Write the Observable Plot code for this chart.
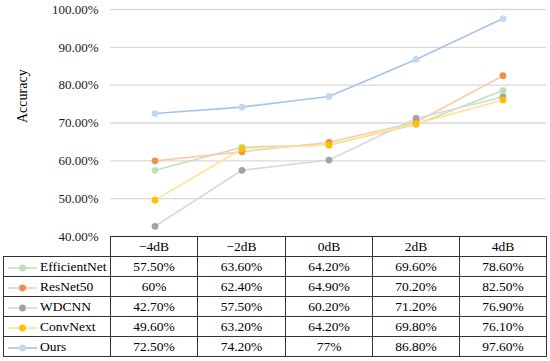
<!DOCTYPE html>
<html>
<head>
<meta charset="utf-8">
<script src="https://cdn.jsdelivr.net/npm/d3@7"></script>
<script src="https://cdn.jsdelivr.net/npm/@observablehq/plot@0.6"></script>
<style>
  html, body { margin: 0; padding: 0; background: #fff; }
  #wrap { position: relative; width: 550px; height: 361px; font-family: "Liberation Serif", "DejaVu Serif", serif; }
  #wrap svg text { font-family: "Liberation Serif", "DejaVu Serif", serif; }
  #tbl { position: absolute; left: 3px; top: 236px; border-collapse: collapse; table-layout: fixed; font-size: 13.5px; color: #000; font-family: "Liberation Serif", "DejaVu Serif", serif; }
  #tbl td { border: 1px solid #333; height: 19px; padding: 0; text-align: center; white-space: nowrap; line-height: 19px; }
  #tbl td.name { text-align: left; }
  #tbl td.blank { border-top: none; border-left: none; }
  .lg { display: inline-block; vertical-align: middle; margin-right: 1px; margin-left: 2px; }
</style>
</head>
<body>
<div id="wrap"></div>
<script>
const categories = ["−4dB", "−2dB", "0dB", "2dB", "4dB"];
const models = ["EfficientNet", "ResNet50", "WDCNN", "ConvNext", "Ours"];
const efficientNet = [57.5, 63.6, 64.2, 69.6, 78.6];
const resNet50 = [60, 62.4, 64.9, 70.2, 82.5];
const wdcnn = [42.7, 57.5, 60.2, 71.2, 76.9];
const convNext = [49.6, 63.2, 64.2, 69.8, 76.1];
const ours = [72.5, 74.2, 77, 86.8, 97.6];
const seriesValues = [efficientNet, resNet50, wdcnn, convNext, ours];
const yTicks = [0.4, 0.5, 0.6, 0.7, 0.8, 0.9, 1.0];
const lineColors = ["#c3e1b5", "#f8cbad", "#d9d9d9", "#ffe38f", "#a7c4e8"];
const markerColors = ["#bfe0b1", "#f58d4c", "#a3a3a3", "#ffc000", "#c0d9f0"];

const series = models.map((m, i) => categories.map((c, j) => ({model: m, cat: c, value: seriesValues[i][j] / 100})));

const marks = [
  Plot.gridY(yTicks, {stroke: "#d9d9d9", strokeOpacity: 1, strokeWidth: 1.3}),
  Plot.axisY(yTicks, {tickSize: 0, tickPadding: 12, fontSize: 13, fill: "#1a1a1a", tickFormat: d => (d * 100).toFixed(2) + "%", label: null}),
  Plot.text(["Accuracy"], {frameAnchor: "left", dx: -88, rotate: -90, fontSize: 14, fill: "#000"})
];
series.forEach((s, i) => {
  marks.push(Plot.line(s, {x: "cat", y: "value", stroke: lineColors[i], strokeWidth: 1.6}));
  marks.push(Plot.dot(s, {x: "cat", y: "value", fill: markerColors[i], r: 3.4, stroke: "none"}));
});

const chart = Plot.plot({
  width: 550,
  height: 361,
  marginLeft: 110,
  marginRight: 4,
  marginTop: 9,
  marginBottom: 125,
  style: {fontFamily: "'Liberation Serif', 'DejaVu Serif', serif", color: "#111", background: "transparent", overflow: "visible"},
  x: {type: "band", domain: categories, padding: 0, axis: null},
  y: {domain: [0.4, 1.0], axis: null},
  marks
});
const wrap = document.getElementById("wrap");
wrap.appendChild(chart);

// data table
const fmt = v => Number.isInteger(v) ? v + "%" : v.toFixed(2) + "%";
const tbl = document.createElement("table");
tbl.id = "tbl";
const cg = document.createElement("colgroup");
[107, 87, 88, 87, 87, 87].forEach(w => { const c = document.createElement("col"); c.style.width = w + "px"; cg.appendChild(c); });
tbl.appendChild(cg);
const hr = document.createElement("tr");
const blank = document.createElement("td"); blank.className = "blank"; hr.appendChild(blank);
categories.forEach(c => { const td = document.createElement("td"); td.textContent = c; hr.appendChild(td); });
tbl.appendChild(hr);
models.forEach((m, i) => {
  const tr = document.createElement("tr");
  const td0 = document.createElement("td"); td0.className = "name";
  td0.innerHTML = `<svg class="lg" width="33" height="10"><line x1="2" y1="5" x2="31" y2="5" stroke="${lineColors[i]}" stroke-width="1.6"/><circle cx="16.5" cy="5" r="3.4" fill="${markerColors[i]}"/></svg>` + m;
  tr.appendChild(td0);
  seriesValues[i].forEach(v => { const td = document.createElement("td"); td.textContent = fmt(v); tr.appendChild(td); });
  tbl.appendChild(tr);
});
wrap.appendChild(tbl);
</script>
</body>
</html>
